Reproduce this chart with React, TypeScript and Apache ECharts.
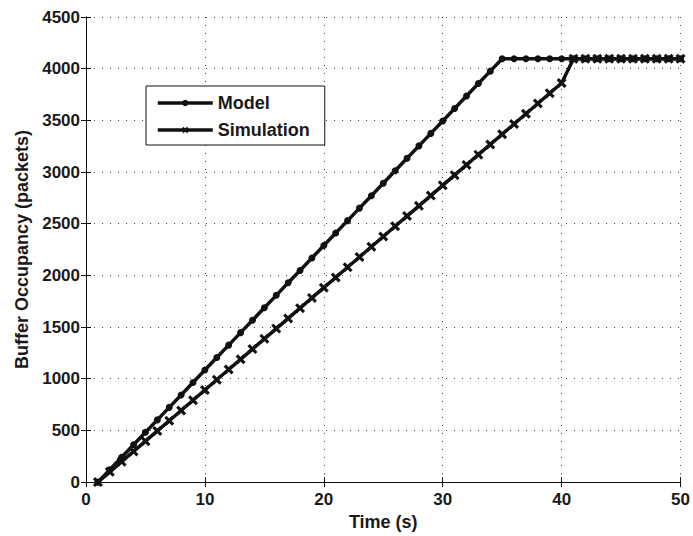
import React, { useEffect, useRef } from "react";
import * as echarts from "echarts";

const timeS = [1, 2, 3, 4, 5, 6, 7, 8, 9, 10, 11, 12, 13, 14, 15, 16, 17, 18, 19, 20, 21, 22, 23, 24, 25, 26, 27, 28, 29, 30, 31, 32, 33, 34, 35, 36, 37, 38, 39, 40, 41, 42, 43, 44, 45, 46, 47, 48, 49, 50];

const modelValues = [0, 120, 241, 361, 482, 602, 723, 843, 964, 1084, 1205, 1325, 1446, 1566, 1687, 1807, 1928, 2048, 2169, 2289, 2410, 2530, 2651, 2771, 2892, 3012, 3133, 3253, 3374, 3494, 3615, 3735, 3856, 3976, 4096, 4096, 4096, 4096, 4096, 4096, 4096, 4096, 4096, 4096, 4096, 4096, 4096, 4096, 4096, 4096];

const simulationValues = [0, 99, 198, 297, 396, 495, 594, 693, 792, 891, 990, 1089, 1188, 1287, 1386, 1485, 1584, 1683, 1782, 1881, 1980, 2079, 2178, 2277, 2376, 2475, 2574, 2673, 2772, 2871, 2970, 3069, 3168, 3267, 3366, 3465, 3564, 3663, 3762, 3861, 4096, 4096, 4096, 4096, 4096, 4096, 4096, 4096, 4096, 4096];

const xTicks = { min: 0, max: 50, interval: 10 };
const yTicks = { min: 0, max: 4500, interval: 500 };

const seriesNames = ["Model", "Simulation"];
const axisNames = { x: "Time (s)", y: "Buffer Occupancy (packets)" };

const FONT = '"Liberation Sans", Arial, Helvetica, sans-serif';
const INK = "#111111";
const X_SYMBOL =
  "path://M2.2,0 L5,2.8 L7.8,0 L10,2.2 L7.2,5 L10,7.8 L7.8,10 L5,7.2 L2.2,10 L0,7.8 L2.8,5 L0,2.2 Z";

export default function App() {
  const ref = useRef<HTMLDivElement>(null);

  useEffect(() => {
    if (!ref.current) return;
    const chart = echarts.init(ref.current, undefined, { renderer: "svg" });

    const gridLine = {
      show: true,
      lineStyle: { color: "#444", width: 1, type: [1, 7] as number[] },
    };
    const axisLine = { show: true, lineStyle: { color: INK, width: 1 } };
    const axisTick = { show: true, inside: true, length: 5, lineStyle: { color: INK, width: 1 } };
    const labelStyle = {
      color: "#1a1a1a",
      fontFamily: FONT,
      fontWeight: "bold" as const,
      fontSize: 17,
      formatter: (v: number) => String(v),
    };

    chart.setOption({
      animation: false,
      backgroundColor: "#ffffff",
      grid: { left: 86, right: 12, top: 17, bottom: 49, containLabel: false },
      legend: {
        show: true,
        orient: "vertical",
        left: 146,
        top: 86,
        data: seriesNames,
        itemWidth: 55,
        itemHeight: 8,
        itemGap: 9,
        padding: [8, 15, 6, 10],
        borderColor: INK,
        borderWidth: 1,
        backgroundColor: "#ffffff",
        lineStyle: { width: 3.5, color: INK },
        textStyle: { color: "#1a1a1a", fontFamily: FONT, fontWeight: "bold", fontSize: 18, lineHeight: 18 },
      },
      xAxis: [
        {
          type: "value",
          ...xTicks,
          position: "bottom",
          name: axisNames.x,
          nameLocation: "middle",
          nameGap: 29,
          nameTextStyle: { color: "#1a1a1a", fontFamily: FONT, fontWeight: "bold", fontSize: 18 },
          axisLine,
          axisTick,
          axisLabel: { ...labelStyle, margin: 9 },
          splitLine: gridLine,
        },
        {
          type: "value",
          ...xTicks,
          position: "top",
          axisLine,
          axisTick,
          axisLabel: { show: false },
          splitLine: { show: false },
        },
      ],
      yAxis: [
        {
          type: "value",
          ...yTicks,
          position: "left",
          name: axisNames.y,
          nameLocation: "middle",
          nameGap: 55,
          nameRotate: 90,
          nameTextStyle: { color: "#1a1a1a", fontFamily: FONT, fontWeight: "bold", fontSize: 18 },
          axisLine,
          axisTick,
          axisLabel: { ...labelStyle, margin: 6 },
          splitLine: gridLine,
        },
        {
          type: "value",
          ...yTicks,
          position: "right",
          axisLine,
          axisTick,
          axisLabel: { show: false },
          splitLine: { show: false },
        },
      ],
      series: [
        {
          name: seriesNames[0],
          type: "line",
          xAxisIndex: 0,
          yAxisIndex: 0,
          data: timeS.map((t, i) => [t, modelValues[i]]),
          symbol: "circle",
          symbolSize: 7,
          showAllSymbol: true,
          lineStyle: { color: INK, width: 3.5 },
          itemStyle: { color: INK },
          z: 3,
        },
        {
          name: seriesNames[1],
          type: "line",
          xAxisIndex: 0,
          yAxisIndex: 0,
          data: timeS.map((t, i) => [t, simulationValues[i]]),
          symbol: X_SYMBOL,
          symbolSize: 10,
          showAllSymbol: true,
          lineStyle: { color: INK, width: 3.5 },
          itemStyle: { color: INK },
          z: 2,
        },
      ],
    });

    return () => chart.dispose();
  }, []);

  return (
    <div
      ref={ref}
      style={{ position: "fixed", left: 0, top: 0, width: 693, height: 536, background: "#fff" }}
    />
  );
}
